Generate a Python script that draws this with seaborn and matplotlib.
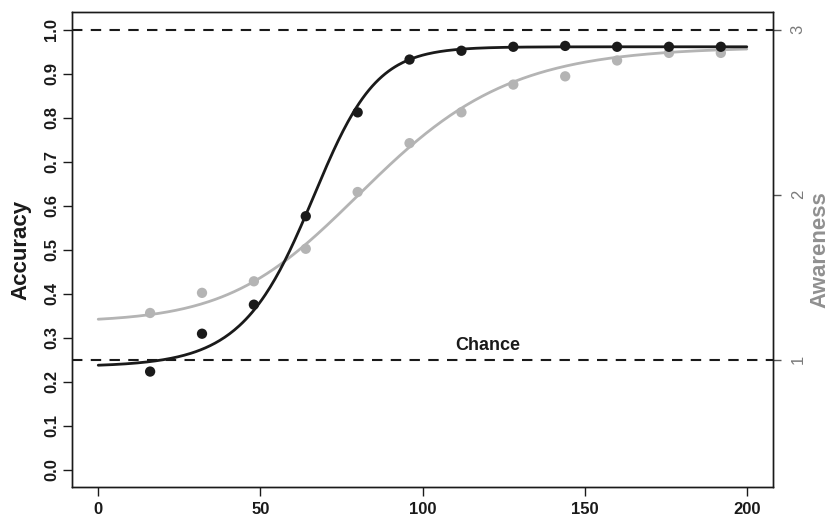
import numpy as np
import pandas as pd
import matplotlib
matplotlib.use("Agg")
import matplotlib.pyplot as plt
import seaborn as sns

# ---- data ----
trial = [16, 32, 48, 64, 80, 96, 112, 128, 144, 160, 176, 192]
accuracy = [0.223, 0.309, 0.375, 0.576, 0.812, 0.932, 0.952, 0.961, 0.963, 0.961, 0.961, 0.961]
awareness = [1.283, 1.405, 1.475, 1.672, 2.016, 2.312, 2.499, 2.667, 2.717, 2.813, 2.859, 2.859]

# fitted (Richards) sigmoid parameters
acc_fit = dict(lower=0.234, upper=0.961, mid=69.7, scale=9.27, shape=0.7125)
awa_fit = dict(lower=1.228, upper=2.895, mid=68.2, scale=24.6, shape=1.615)

x_ticks = [0, 50, 100, 150, 200]
acc_ticks = [0.0, 0.1, 0.2, 0.3, 0.4, 0.5, 0.6, 0.7, 0.8, 0.9, 1.0]
awa_ticks = [1, 2, 3]
chance = 0.25
ceiling = 1.0

BLACK = "#1a1a1a"
GRAY = "#b4b4b4"
TICK_GRAY = "#7a7a7a"
LABEL_GRAY = "#909090"


def sigmoid(x, p):
    return p["lower"] + (p["upper"] - p["lower"]) / (
        1 + np.exp(-(x - p["mid"]) / p["scale"])) ** p["shape"]


sns.set_theme(style="white")
plt.rcParams["font.family"] = ["Liberation Sans", "DejaVu Sans"]

fig = plt.figure(figsize=(8.3, 5.16), dpi=100)
ax = fig.add_axes([0.0871, 0.0556, 0.931 - 0.0871, 0.9767 - 0.0556])
ax2 = ax.twinx()

xs = np.linspace(0, 200, 401)
pts = pd.DataFrame({"trial": trial, "accuracy": accuracy, "awareness": awareness})
curve = pd.DataFrame({"x": xs, "acc": sigmoid(xs, acc_fit), "awa": sigmoid(xs, awa_fit)})

# reference lines
for yv in (chance, ceiling):
    ax.axhline(yv, color=BLACK, lw=1.5, dashes=(5, 4), zorder=1)
ax.text(120, chance + 0.014, "Chance", ha="center", va="bottom",
        fontsize=13, fontweight="bold", color=BLACK)

# awareness (right axis)
acc_lim = (-0.04, 1.04)
awa_lim = tuple(1 + (v - chance) / 0.375 for v in acc_lim)
sns.lineplot(data=curve, x="x", y="awa", ax=ax2, color=GRAY, lw=2.0, zorder=2)
sns.scatterplot(data=pts, x="trial", y="awareness", ax=ax2, color=GRAY, s=55,
                edgecolor="none", zorder=3)

# accuracy (left axis) drawn on top
ax.set_zorder(ax2.get_zorder() + 1)
ax.patch.set_visible(False)
sns.lineplot(data=curve, x="x", y="acc", ax=ax, color=BLACK, lw=2.0, zorder=4)
sns.scatterplot(data=pts, x="trial", y="accuracy", ax=ax, color=BLACK, s=55,
                edgecolor="none", zorder=5)

ax.set_xlim(-8, 208)
ax.set_ylim(*acc_lim)
ax2.set_ylim(*awa_lim)

ax.set_xticks(x_ticks)
ax.set_xticklabels([str(t) for t in x_ticks], fontsize=12, fontweight="bold", color=BLACK)
ax.set_yticks(acc_ticks)
ax.set_yticklabels([f"{t:.1f}" for t in acc_ticks], fontsize=12, fontweight="bold",
                   color=BLACK, rotation=90, va="center")
ax2.set_yticks(awa_ticks)
ax2.set_yticklabels([str(t) for t in awa_ticks], fontsize=12, color=TICK_GRAY,
                    rotation=90, va="center")

ax.tick_params(axis="both", direction="out", length=6.5, width=1, color=BLACK,
               left=True, bottom=True, pad=4)
ax.tick_params(axis="y", pad=3)
ax2.tick_params(axis="y", direction="out", length=6, width=1, color="#555555",
                right=True, pad=7)

ax.set_xlabel("")
ax.set_ylabel("Accuracy", fontsize=16, fontweight="bold", color=BLACK)
ax.yaxis.set_label_coords(-0.059, 0.5)
ax2.set_ylabel("Awareness", fontsize=16, fontweight="bold", color=LABEL_GRAY, rotation=90)
ax2.yaxis.set_label_coords(1.052, 0.5)

for a in (ax, ax2):
    for sp in a.spines.values():
        sp.set_visible(True)
        sp.set_color(BLACK)
        sp.set_linewidth(1.0)

fig.savefig("out.png", dpi=100)
